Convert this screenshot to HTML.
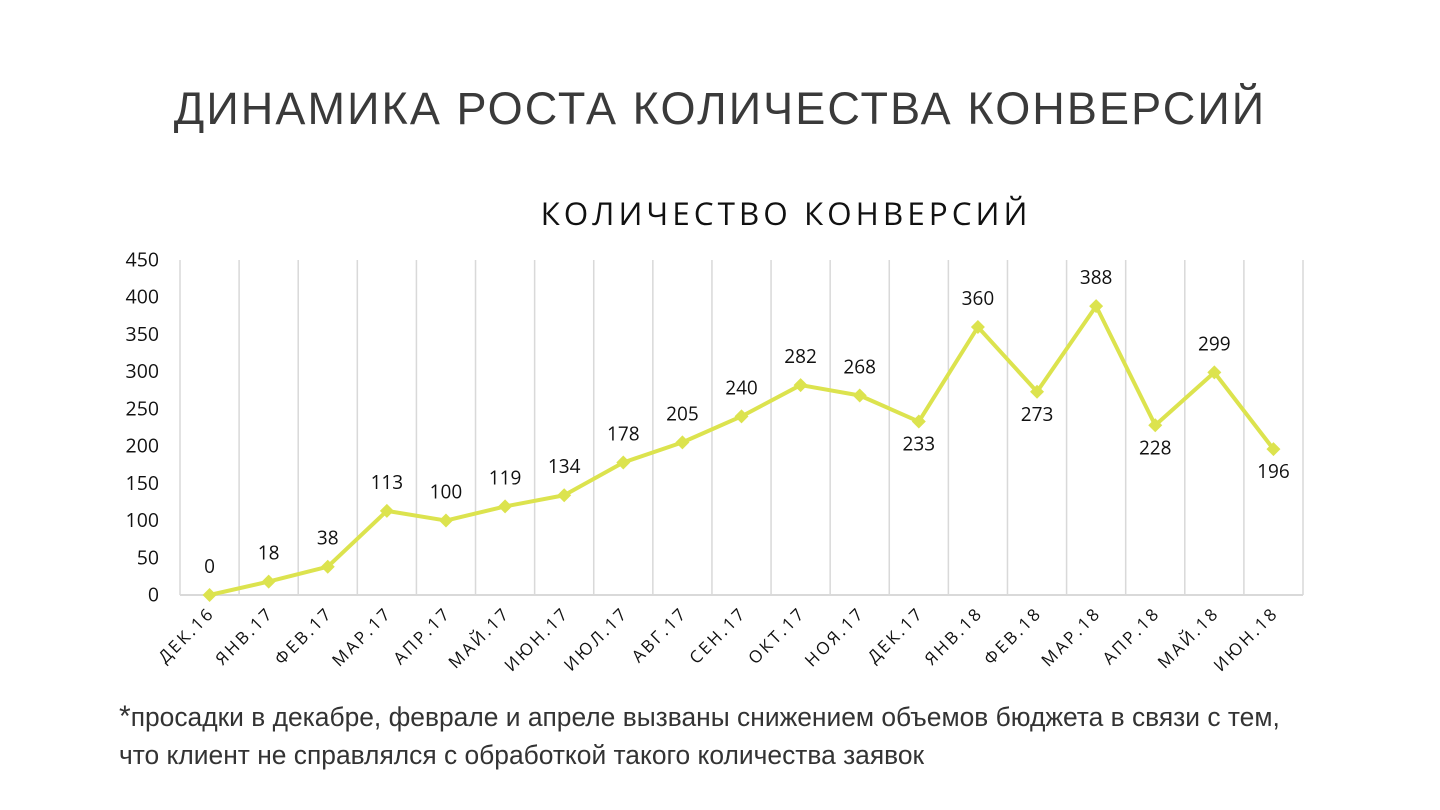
<!DOCTYPE html>
<html><head><meta charset="utf-8"><style>
body{margin:0;width:1440px;height:810px;background:#fff;overflow:hidden;font-family:"Liberation Sans","DejaVu Sans",sans-serif}
#title{position:absolute;left:0;width:1440px;top:83px;text-align:center;font-size:45px;color:#3a3a3a;letter-spacing:2.1px;white-space:nowrap}
#note{position:absolute;left:119px;top:698px;font-size:26.4px;color:#333;line-height:38px;white-space:nowrap;letter-spacing:0}
svg{position:absolute;left:0;top:0}
</style></head><body>
<div id="title">ДИНАМИКА РОСТА КОЛИЧЕСТВА КОНВЕРСИЙ</div>
<svg id="chart" width="1440" height="810"></svg>
<div id="note"><span style="font-size:30px">*</span>просадки в декабре, феврале и апреле вызваны снижением объемов бюджета в связи с тем,<br>что клиент не справлялся с обработкой такого количества заявок</div>
<script>
const categories=["ДЕК.16","ЯНВ.17","ФЕВ.17","МАР.17","АПР.17","МАЙ.17","ИЮН.17","ИЮЛ.17","АВГ.17","СЕН.17","ОКТ.17","НОЯ.17","ДЕК.17","ЯНВ.18","ФЕВ.18","МАР.18","АПР.18","МАЙ.18","ИЮН.18"];
const values=[0,18,38,113,100,119,134,178,205,240,282,268,233,360,273,388,228,299,196];
const labelBelow=[false,false,false,false,false,false,false,false,false,false,false,false,true,false,true,false,true,false,true];
const yTicks=[0,50,100,150,200,250,300,350,400,450];
const NS="http://www.w3.org/2000/svg";
const svg=document.getElementById('chart');
const x0=180,x1=1303,y0=595,y1=260,ymax=450;
const step=(x1-x0)/categories.length;
const X=i=>x0+step*(i+0.5);
const Y=v=>y0-(v/ymax)*(y0-y1);
function mk(t,a){const e=document.createElementNS(NS,t);for(const k in a)e.setAttribute(k,a[k]);svg.appendChild(e);return e;}
const ft='"Open Sans","DejaVu Sans","Liberation Sans",sans-serif';
let t=mk('text',{x:786,y:225,'text-anchor':'middle','font-size':31.5,fill:'#111','letter-spacing':'4','font-family':ft});
t.textContent='КОЛИЧЕСТВО КОНВЕРСИЙ';


for(let i=0;i<=categories.length;i++){
 const g=mk('line',{x1:x0+step*i,x2:x0+step*i,y1:y1,y2:y0,stroke:'#d9d9d9','stroke-width':1.5});
 
 
}
const ax=mk('line',{x1:x0,x2:x1,y1:y0,y2:y0,stroke:'#d9d9d9','stroke-width':2});


yTicks.forEach(v=>{
 const e=mk('text',{x:159,y:Y(v)+6.5,'text-anchor':'end','font-size':19.5,fill:'#111','font-family':ft});
 e.textContent=v;
 
 
});
categories.forEach((c,i)=>{
 const e=mk('text',{x:X(i)+6,y:614,'text-anchor':'end','font-size':17,fill:'#111','letter-spacing':'2.6','font-family':ft,transform:`rotate(-45 ${X(i)+6} 614)`});
 e.textContent=c;
 
 
});
const pl=mk('polyline',{points:values.map((v,i)=>X(i)+','+Y(v)).join(' '),fill:'none',stroke:'#dce34e','stroke-width':4,'stroke-linejoin':'round'});


values.forEach((v,i)=>{
 const x=X(i),y=Y(v);
 const m=mk('polygon',{points:`${x},${y-7} ${x+7},${y} ${x},${y+7} ${x-7},${y}`,fill:'#dce34e'});
 
 
 const l=mk('text',{x:x,y:labelBelow[i]?y+29:y-22,'text-anchor':'middle','font-size':19,fill:'#111','font-family':ft});
 l.textContent=v;
 
 
});
</script>
</body></html>
